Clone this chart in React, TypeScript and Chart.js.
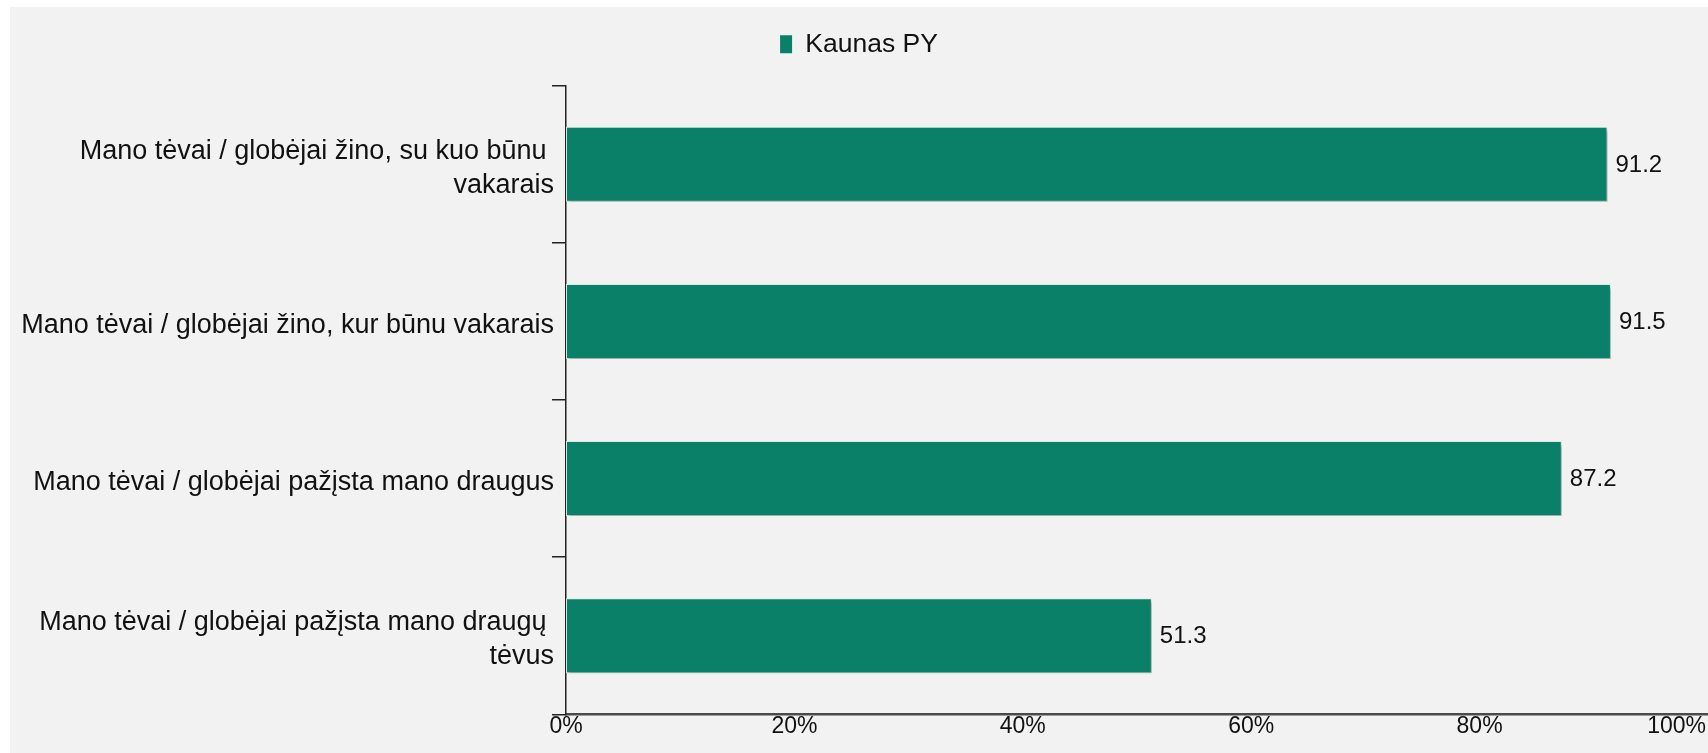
import React, { useEffect, useRef } from 'react';
import { Chart, registerables } from 'chart.js';

Chart.register(...registerables);

// ---- data ----
const categories: (string | string[])[] = [
  ['Mano tėvai / globėjai žino, su kuo būnu ', 'vakarais'],
  'Mano tėvai / globėjai žino, kur būnu vakarais',
  'Mano tėvai / globėjai pažįsta mano draugus',
  ['Mano tėvai / globėjai pažįsta mano draugų ', 'tėvus'],
];
const seriesName = 'Kaunas PY';
const values = [91.2, 91.5, 87.2, 51.3];
const xTickValues = [0, 20, 40, 60, 80, 100];
const xTickSuffix = '%';

const FONT = '"Liberation Sans", Arial, Helvetica, sans-serif';
const BAR_COLOR = '#0b8069';
const W = 1698;
const H = 746;
const CHART_TOP = 78.7;
const CHART_BOTTOM = 707.3;
const LAYOUT_TOP = 14;

const X_TICK_SIZE = 23;
const X_TICK_PAD = -1;

const legendHeightFix = {
  id: 'legendHeightFix',
  beforeLayout(chart: any) {
    const lg = chart.legend;
    if (lg && !lg.__patched) {
      const orig = lg.fit.bind(lg);
      lg.fit = function () {
        orig();
        lg.height = CHART_TOP - LAYOUT_TOP;
      };
      lg.__patched = true;
    }
  },
};

const shadowAndLabels = {
  id: 'shadowAndLabels',
  beforeDatasetsDraw(chart: any) {
    const ctx = chart.ctx;
    ctx.save();
    ctx.shadowColor = 'rgba(0,0,0,0.28)';
    ctx.shadowOffsetX = 2;
    ctx.shadowOffsetY = 3;
    ctx.shadowBlur = 3;
  },
  afterDatasetsDraw(chart: any) {
    const ctx = chart.ctx;
    ctx.restore();
    const meta = chart.getDatasetMeta(0);
    const data = chart.data.datasets[0].data as number[];
    ctx.save();
    ctx.font = `24px ${FONT}`;
    ctx.fillStyle = '#111';
    ctx.textAlign = 'left';
    ctx.textBaseline = 'middle';
    meta.data.forEach((bar: any, i: number) => {
      ctx.fillText(data[i].toFixed(1), bar.x + 8, bar.y + 1);
    });
    ctx.restore();
  },
  afterDraw(chart: any) {
    // last x tick label kept inside the canvas (right-aligned to the edge)
    const xs = chart.scales.x;
    const v = xTickValues[xTickValues.length - 1];
    const label = `${v}${xTickSuffix}`;
    const ctx = chart.ctx;
    ctx.save();
    ctx.font = `${X_TICK_SIZE}px ${FONT}`;
    ctx.fillStyle = '#111';
    ctx.textBaseline = 'middle';
    ctx.textAlign = 'right';
    const w = ctx.measureText(label).width;
    const px = xs.getPixelForValue(v);
    const x = Math.min(px + w / 2, chart.width - 2);
    ctx.fillText(label, x, xs.top + X_TICK_PAD + (X_TICK_SIZE * 1.2) / 2);
    ctx.restore();
  },
};

export default function App() {
  const ref = useRef<HTMLCanvasElement | null>(null);

  useEffect(() => {
    if (!ref.current) return;
    const chart = new Chart(ref.current, {
      type: 'bar',
      data: {
        labels: categories,
        datasets: [
          {
            label: seriesName,
            data: values,
            backgroundColor: BAR_COLOR,
            borderColor: '#d6ebe4',
            borderWidth: 1,
            borderSkipped: false,
            categoryPercentage: 1,
            barPercentage: 0.477,
          },
        ],
      },
      options: {
        indexAxis: 'y',
        animation: false,
        responsive: false,
        devicePixelRatio: 1,
        layout: { padding: { top: LAYOUT_TOP, left: 0, right: 0, bottom: 0 } },
        plugins: {
          legend: {
            display: true,
            position: 'top',
            align: 'center',
            labels: {
              boxWidth: 12,
              boxHeight: 18,
              padding: 10,
              color: '#111',
              font: { size: 26.5, family: FONT },
              generateLabels: (c: any) =>
                (Chart.defaults.plugins.legend.labels as any)
                  .generateLabels(c)
                  .map((l: any) => ({ ...l, lineWidth: 0 })),
            },
          },
          tooltip: { enabled: false },
        },
        scales: {
          x: {
            type: 'linear',
            position: 'bottom',
            min: 0,
            max: 100,
            afterBuildTicks: (s: any) => {
              s.ticks = xTickValues.map((v) => ({ value: v }));
            },
            afterFit: (s: any) => {
              s.height = H - CHART_BOTTOM;
              s.paddingLeft = 0;
              s.paddingRight = 0;
            },
            grid: { display: false, drawTicks: false },
            border: { display: true, color: '#4a4a4a', width: 2.5 },
            ticks: {
              padding: X_TICK_PAD,
              maxRotation: 0,
              autoSkip: false,
              color: '#111',
              font: { size: X_TICK_SIZE, family: FONT },
              callback: (v: any) =>
                Number(v) === xTickValues[xTickValues.length - 1] ? '' : `${v}${xTickSuffix}`,
            },
          },
          y: {
            type: 'category',
            position: 'left',
            offset: true,
            afterFit: (s: any) => {
              s.width = 556;
              s.paddingTop = 0;
              s.paddingBottom = 0;
            },
            grid: {
              display: true,
              offset: true,
              drawOnChartArea: false,
              drawTicks: true,
              tickLength: 14,
              color: '#222',
              lineWidth: 1.5,
            },
            border: { display: true, color: '#222', width: 1.5 },
            ticks: {
              padding: -2,
              labelOffset: 4,
              color: '#111',
              crossAlign: 'near',
              font: { size: 27, family: FONT, lineHeight: 1.26 },
            },
          },
        },
      } as any,
      plugins: [legendHeightFix, shadowAndLabels],
    });
    return () => chart.destroy();
  }, []);

  return (
    <div
      style={{
        position: 'absolute',
        left: 10,
        top: 7,
        width: W,
        height: H,
        background: '#f2f2f2',
      }}
    >
      <canvas ref={ref} width={W} height={H} style={{ display: 'block', width: W, height: H }} />
    </div>
  );
}
